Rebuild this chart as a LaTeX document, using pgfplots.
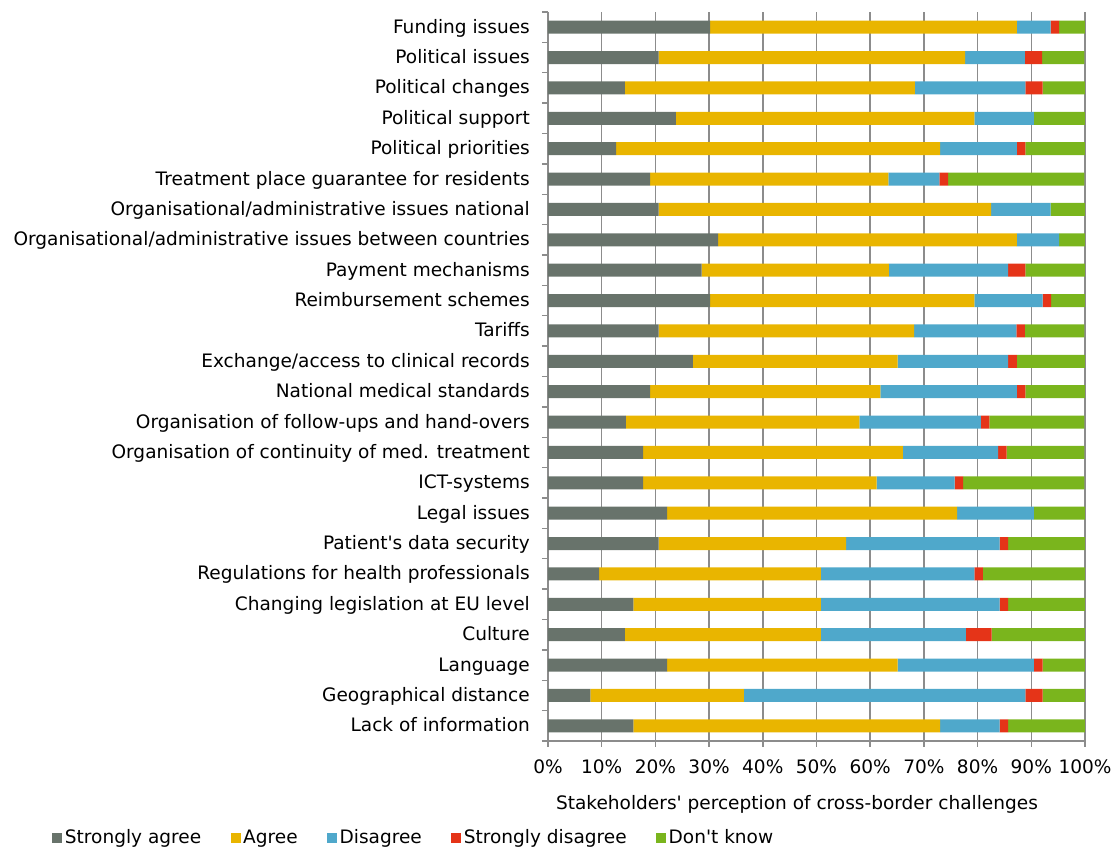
\documentclass[border=0pt]{standalone}
\usepackage{fontspec}
\setmainfont{DejaVu Sans}[Ligatures=TeXOff]
\usepackage{pgfplots}
\usepackage{pgfplotstable}
\pgfplotsset{compat=1.18}
\definecolor{cSA}{RGB}{104,115,107}
\definecolor{cA}{RGB}{233,181,0}
\definecolor{cD}{RGB}{79,168,203}
\definecolor{cSD}{RGB}{229,52,24}
\definecolor{cDK}{RGB}{122,181,29}
\definecolor{gridgray}{RGB}{140,140,140}
\pgfplotstableread{
idx SA A D SD DK
0 30.2 57.1 6.3 1.6 4.8
1 20.6 57.1 11.1 3.2 7.9
2 14.3 54.0 20.6 3.2 7.9
3 23.8 55.6 11.1 0 9.5
4 12.7 60.3 14.3 1.6 11.1
5 19.0 44.4 9.5 1.6 25.4
6 20.6 61.9 11.1 0 6.4
7 31.7 55.6 7.9 0 4.8
8 28.6 34.9 22.2 3.2 11.1
9 30.2 49.2 12.7 1.6 6.3
10 20.6 47.6 19.0 1.6 11.1
11 27.0 38.1 20.6 1.6 12.7
12 19.0 42.9 25.4 1.6 11.1
13 14.5 43.5 22.6 1.6 17.7
14 17.7 48.4 17.7 1.6 14.5
15 17.7 43.5 14.5 1.6 22.6
16 22.2 54.0 14.3 0 9.5
17 20.6 34.9 28.6 1.6 14.3
18 9.5 41.3 28.6 1.6 19.0
19 15.9 34.9 33.3 1.6 14.3
20 14.3 36.5 27.0 4.8 17.4
21 22.2 42.9 25.4 1.6 7.9
22 7.9 28.6 52.4 3.2 7.9
23 15.9 57.1 11.1 1.6 14.3
}\datatable
\begin{document}
\fontsize{13.9}{16}\selectfont
\begin{tikzpicture}
\path[use as bounding box] (-411pt,-80.25pt) rectangle (427.5pt,555.75pt);
\begin{axis}[
  at={(0pt,0pt)}, anchor=south west,
  scale only axis, width=402.75pt, height=546.75pt,
  xbar stacked, bar width=0.43,
  xmin=0, xmax=100, ymin=-0.5, ymax=23.5,
  xtick={0,10,...,100},
  xticklabel={\pgfmathprintnumber{\tick}\%},
  /pgf/number format/assume math mode=true,
  ytick={0,...,23},
  yticklabels={Lack of information, Geographical distance, Language, Culture, Changing legislation at EU level, Regulations for health professionals, Patient's data security, Legal issues, ICT-systems, Organisation of continuity of med. treatment, Organisation of follow-ups and hand-overs, National medical standards, Exchange/access to clinical records, Tariffs, Reimbursement schemes, Payment mechanisms, Organisational/administrative issues between countries, Organisational/administrative issues national, Treatment place guarantee for residents, Political priorities, Political support, Political changes, Political issues, Funding issues},
  minor ytick={-0.5,0.5,...,23.5},
  axis x line*=bottom, axis y line*=left,
  axis line style={-, draw=gridgray, line width=1.1pt},
  tick align=outside,
  major tick length=4.5pt, minor tick length=4.5pt,
  tick style={draw=gridgray, line width=1.1pt},
  major y tick style={draw=none},
  xmajorgrids,
  major x grid style={draw=gridgray, line width=1.1pt},
  ticklabel style={font=\fontsize{13.9}{16}\selectfont},
  yticklabel style={xshift=-4.3pt, yshift=-1.3pt, text height=11.2pt, text depth=4.8pt},
  xticklabel style={yshift=-5pt},
  xlabel={Stakeholders' perception of cross-border challenges},
  xlabel style={at={(axis description cs:0.4637,-0.087)}, anchor=center, font=\fontsize{13.9}{16}\selectfont},
  legend columns=5,
  legend style={at={(axis description cs:-0.9236,-0.1331)}, anchor=west, draw=none, fill=none, inner sep=0pt, font=\fontsize{13.9}{16}\selectfont, nodes={inner xsep=2pt}, /tikz/every even column/.append style={column sep=20pt}},
  legend image code/.code={\fill[#1] (0pt,-4pt) rectangle (7.5pt,3.5pt);},
]
\addplot[fill=cSA, draw=none] table[x=SA, y expr=23-\thisrow{idx}] {\datatable};
\addplot[fill=cA, draw=none] table[x=A, y expr=23-\thisrow{idx}] {\datatable};
\addplot[fill=cD, draw=none] table[x=D, y expr=23-\thisrow{idx}] {\datatable};
\addplot[fill=cSD, draw=none] table[x=SD, y expr=23-\thisrow{idx}] {\datatable};
\addplot[fill=cDK, draw=none] table[x=DK, y expr=23-\thisrow{idx}] {\datatable};
\legend{Strongly agree, Agree, Disagree, Strongly disagree, Don't know}
\end{axis}
\end{tikzpicture}
\end{document}
